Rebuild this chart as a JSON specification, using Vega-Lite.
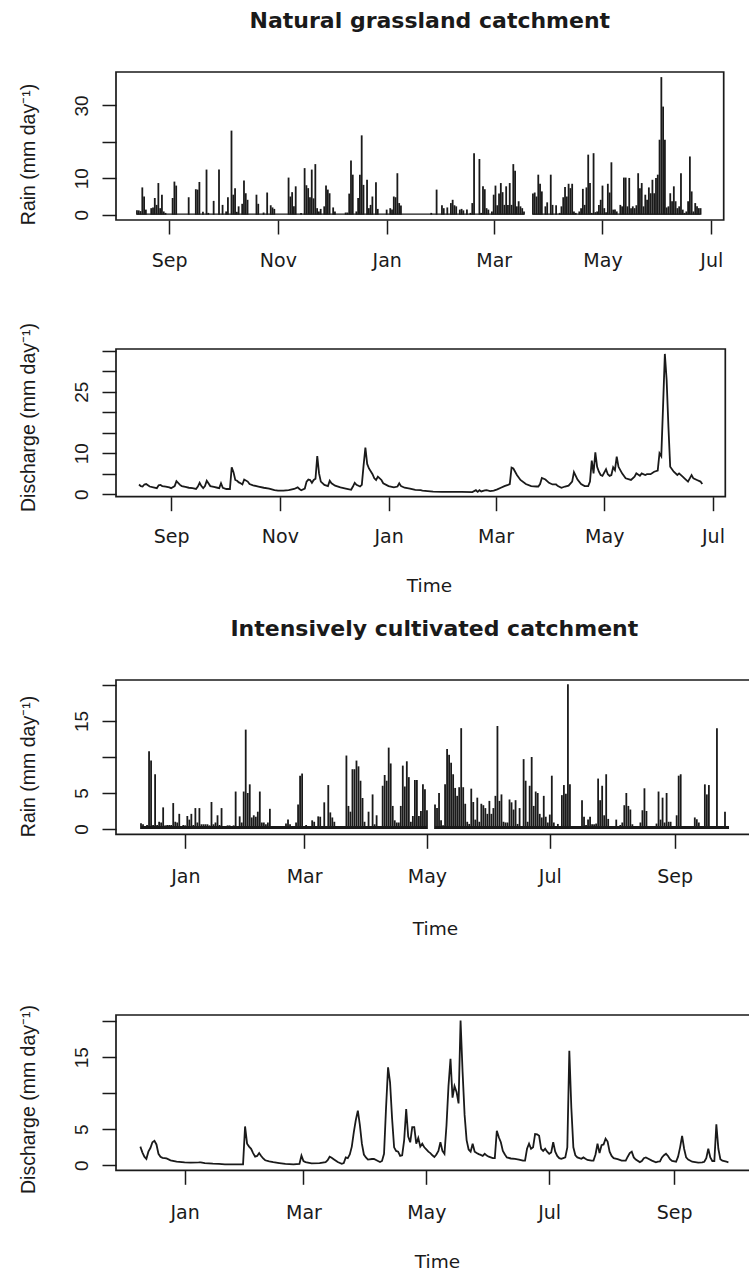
{
  "$schema": "https://vega.github.io/schema/vega-lite/v6.json",
  "padding": {"left": 17, "top": 9, "right": 0, "bottom": 0},
  "background": "white",
  "bounds": "flush",
  "spacing": 0,
  "config": {
    "font": "DejaVu Sans",
    "view": {"stroke": "#1a1a1a", "strokeWidth": 1.7},
    "axis": {"domain": false, "grid": false, "tickColor": "#1a1a1a", "tickWidth": 1.5, "tickSize": 14, "labelColor": "#1a1a1a", "titleColor": "#1a1a1a", "titleFontWeight": "normal", "labelOverlap": false, "labelFlush": false},
    "axisX": {"labelFont": "DejaVu Sans", "titleFont": "DejaVu Sans", "labelFontSize": 19, "labelBaseline": "alphabetic", "labelPadding": 32, "titleFontSize": 18.5, "titleBaseline": "alphabetic", "format": "%b"},
    "axisY": {"labelFont": "Liberation Sans", "titleFont": "Liberation Sans", "labelFontSize": 19, "labelAngle": -90, "labelAlign": "center", "labelBaseline": "alphabetic", "labelPadding": 15, "titleFontSize": 19.5, "titleBaseline": "alphabetic", "titleAngle": -90, "titleX": -82},
    "title": {"font": "DejaVu Sans", "fontSize": 22, "fontWeight": "bold", "color": "#1a1a1a", "baseline": "alphabetic", "anchor": "middle"}
  },
  "datasets": {
    "base1": [
      {"date": "2007-08-14", "date2": "2008-03-18", "rain": 0.35},
      {"date": "2008-03-23", "date2": "2008-06-25", "rain": 0.35}
    ],
    "rain1": [
      {"date": "2007-08-14", "rain": 1.2}, {"date": "2007-08-15", "rain": 1.2}, {"date": "2007-08-16", "rain": 1.0}, {"date": "2007-08-17", "rain": 7.5}, {"date": "2007-08-18", "rain": 5.0}, {"date": "2007-08-19", "rain": 1.4}, {"date": "2007-08-22", "rain": 1.8}, {"date": "2007-08-23", "rain": 2.0}, {"date": "2007-08-24", "rain": 4.6}, {"date": "2007-08-25", "rain": 2.7}, {"date": "2007-08-26", "rain": 8.7}, {"date": "2007-08-27", "rain": 1.8}, {"date": "2007-08-28", "rain": 5.5}, {"date": "2007-08-29", "rain": 0.9}, {"date": "2007-08-30", "rain": 0.5},
      {"date": "2007-09-03", "rain": 4.6}, {"date": "2007-09-04", "rain": 9.1}, {"date": "2007-09-05", "rain": 8.0}, {"date": "2007-09-12", "rain": 4.8}, {"date": "2007-09-16", "rain": 7.0}, {"date": "2007-09-17", "rain": 6.9}, {"date": "2007-09-18", "rain": 9.0}, {"date": "2007-09-20", "rain": 0.8}, {"date": "2007-09-22", "rain": 12.4}, {"date": "2007-09-23", "rain": 0.5}, {"date": "2007-09-26", "rain": 3.8}, {"date": "2007-09-29", "rain": 12.4},
      {"date": "2007-10-01", "rain": 2.7}, {"date": "2007-10-03", "rain": 0.9}, {"date": "2007-10-04", "rain": 4.8}, {"date": "2007-10-06", "rain": 23.1}, {"date": "2007-10-07", "rain": 5.5}, {"date": "2007-10-08", "rain": 7.3}, {"date": "2007-10-09", "rain": 0.8}, {"date": "2007-10-10", "rain": 2.3}, {"date": "2007-10-12", "rain": 3.0}, {"date": "2007-10-13", "rain": 9.4}, {"date": "2007-10-14", "rain": 5.9}, {"date": "2007-10-15", "rain": 4.1}, {"date": "2007-10-20", "rain": 5.5}, {"date": "2007-10-21", "rain": 3.0}, {"date": "2007-10-24", "rain": 0.6}, {"date": "2007-10-26", "rain": 6.1}, {"date": "2007-10-28", "rain": 2.6}, {"date": "2007-10-29", "rain": 2.0}, {"date": "2007-10-30", "rain": 1.6},
      {"date": "2007-11-07", "rain": 10.2}, {"date": "2007-11-08", "rain": 5.0}, {"date": "2007-11-09", "rain": 6.2}, {"date": "2007-11-10", "rain": 2.3}, {"date": "2007-11-11", "rain": 7.8}, {"date": "2007-11-14", "rain": 0.5}, {"date": "2007-11-16", "rain": 12.8}, {"date": "2007-11-17", "rain": 8.1}, {"date": "2007-11-18", "rain": 7.3}, {"date": "2007-11-19", "rain": 4.8}, {"date": "2007-11-20", "rain": 12.4}, {"date": "2007-11-21", "rain": 4.5}, {"date": "2007-11-22", "rain": 13.9}, {"date": "2007-11-23", "rain": 1.8}, {"date": "2007-11-24", "rain": 0.9}, {"date": "2007-11-25", "rain": 1.6}, {"date": "2007-11-27", "rain": 2.3}, {"date": "2007-11-28", "rain": 8.0}, {"date": "2007-11-29", "rain": 6.9}, {"date": "2007-11-30", "rain": 5.9},
      {"date": "2007-12-02", "rain": 2.0}, {"date": "2007-12-03", "rain": 0.9}, {"date": "2007-12-09", "rain": 0.6}, {"date": "2007-12-10", "rain": 0.6}, {"date": "2007-12-11", "rain": 5.8}, {"date": "2007-12-12", "rain": 14.9}, {"date": "2007-12-13", "rain": 11.0}, {"date": "2007-12-15", "rain": 0.9}, {"date": "2007-12-16", "rain": 4.6}, {"date": "2007-12-17", "rain": 11.0}, {"date": "2007-12-18", "rain": 21.8}, {"date": "2007-12-19", "rain": 8.2}, {"date": "2007-12-21", "rain": 9.6}, {"date": "2007-12-22", "rain": 1.8}, {"date": "2007-12-23", "rain": 2.7}, {"date": "2007-12-24", "rain": 5.0}, {"date": "2007-12-26", "rain": 8.9}, {"date": "2007-12-27", "rain": 1.6},
      {"date": "2008-01-01", "rain": 1.4}, {"date": "2008-01-03", "rain": 1.8}, {"date": "2008-01-04", "rain": 1.4}, {"date": "2008-01-05", "rain": 5.0}, {"date": "2008-01-06", "rain": 4.8}, {"date": "2008-01-07", "rain": 11.4}, {"date": "2008-01-08", "rain": 3.2}, {"date": "2008-01-09", "rain": 2.5}, {"date": "2008-01-26", "rain": 0.5}, {"date": "2008-01-29", "rain": 6.9},
      {"date": "2008-02-01", "rain": 2.6}, {"date": "2008-02-02", "rain": 1.8}, {"date": "2008-02-04", "rain": 2.0}, {"date": "2008-02-06", "rain": 3.2}, {"date": "2008-02-07", "rain": 4.1}, {"date": "2008-02-08", "rain": 2.6}, {"date": "2008-02-09", "rain": 2.3}, {"date": "2008-02-11", "rain": 1.4}, {"date": "2008-02-12", "rain": 1.6}, {"date": "2008-02-13", "rain": 1.2}, {"date": "2008-02-15", "rain": 1.4}, {"date": "2008-02-17", "rain": 0.5}, {"date": "2008-02-18", "rain": 3.2}, {"date": "2008-02-19", "rain": 16.9}, {"date": "2008-02-22", "rain": 15.3}, {"date": "2008-02-23", "rain": 0.5}, {"date": "2008-02-24", "rain": 7.8}, {"date": "2008-02-25", "rain": 7.0}, {"date": "2008-02-26", "rain": 1.8}, {"date": "2008-02-27", "rain": 1.4}, {"date": "2008-02-29", "rain": 0.9},
      {"date": "2008-03-01", "rain": 5.5}, {"date": "2008-03-02", "rain": 8.0}, {"date": "2008-03-03", "rain": 2.6}, {"date": "2008-03-04", "rain": 5.8}, {"date": "2008-03-05", "rain": 8.7}, {"date": "2008-03-06", "rain": 6.2}, {"date": "2008-03-07", "rain": 2.7}, {"date": "2008-03-08", "rain": 7.8}, {"date": "2008-03-09", "rain": 2.7}, {"date": "2008-03-10", "rain": 8.7}, {"date": "2008-03-11", "rain": 2.7}, {"date": "2008-03-12", "rain": 13.9}, {"date": "2008-03-13", "rain": 12.1}, {"date": "2008-03-14", "rain": 2.3}, {"date": "2008-03-15", "rain": 3.7}, {"date": "2008-03-16", "rain": 2.3}, {"date": "2008-03-17", "rain": 1.8}, {"date": "2008-03-18", "rain": 0.9},
      {"date": "2008-03-23", "rain": 5.8}, {"date": "2008-03-24", "rain": 6.1}, {"date": "2008-03-25", "rain": 5.0}, {"date": "2008-03-26", "rain": 11.0}, {"date": "2008-03-27", "rain": 8.5}, {"date": "2008-03-28", "rain": 6.4}, {"date": "2008-03-30", "rain": 2.3}, {"date": "2008-03-31", "rain": 3.4},
      {"date": "2008-04-02", "rain": 11.0}, {"date": "2008-04-03", "rain": 2.7}, {"date": "2008-04-05", "rain": 2.6}, {"date": "2008-04-07", "rain": 0.5}, {"date": "2008-04-08", "rain": 2.3}, {"date": "2008-04-09", "rain": 4.8}, {"date": "2008-04-10", "rain": 7.6}, {"date": "2008-04-11", "rain": 5.0}, {"date": "2008-04-12", "rain": 8.5}, {"date": "2008-04-13", "rain": 7.3}, {"date": "2008-04-14", "rain": 8.5}, {"date": "2008-04-15", "rain": 0.9}, {"date": "2008-04-16", "rain": 0.5}, {"date": "2008-04-18", "rain": 0.9}, {"date": "2008-04-19", "rain": 1.8}, {"date": "2008-04-20", "rain": 7.1}, {"date": "2008-04-21", "rain": 2.7}, {"date": "2008-04-22", "rain": 7.5}, {"date": "2008-04-23", "rain": 16.5}, {"date": "2008-04-24", "rain": 8.7}, {"date": "2008-04-25", "rain": 0.5}, {"date": "2008-04-26", "rain": 16.9}, {"date": "2008-04-27", "rain": 0.7}, {"date": "2008-04-28", "rain": 0.9}, {"date": "2008-04-29", "rain": 2.7}, {"date": "2008-04-30", "rain": 4.1},
      {"date": "2008-05-01", "rain": 8.0}, {"date": "2008-05-02", "rain": 1.8}, {"date": "2008-05-03", "rain": 0.7}, {"date": "2008-05-04", "rain": 8.5}, {"date": "2008-05-05", "rain": 6.1}, {"date": "2008-05-06", "rain": 14.4}, {"date": "2008-05-07", "rain": 1.4}, {"date": "2008-05-08", "rain": 1.4}, {"date": "2008-05-09", "rain": 0.9}, {"date": "2008-05-11", "rain": 2.7}, {"date": "2008-05-12", "rain": 2.3}, {"date": "2008-05-13", "rain": 10.2}, {"date": "2008-05-14", "rain": 10.2}, {"date": "2008-05-15", "rain": 2.3}, {"date": "2008-05-16", "rain": 10.1}, {"date": "2008-05-17", "rain": 1.8}, {"date": "2008-05-18", "rain": 2.3}, {"date": "2008-05-19", "rain": 1.8}, {"date": "2008-05-20", "rain": 2.6}, {"date": "2008-05-21", "rain": 11.4}, {"date": "2008-05-22", "rain": 7.3}, {"date": "2008-05-23", "rain": 8.7}, {"date": "2008-05-24", "rain": 2.3}, {"date": "2008-05-25", "rain": 5.5}, {"date": "2008-05-26", "rain": 4.1}, {"date": "2008-05-27", "rain": 7.5}, {"date": "2008-05-28", "rain": 5.9}, {"date": "2008-05-29", "rain": 9.6}, {"date": "2008-05-30", "rain": 5.9}, {"date": "2008-05-31", "rain": 10.1},
      {"date": "2008-06-01", "rain": 11.0}, {"date": "2008-06-02", "rain": 20.6}, {"date": "2008-06-03", "rain": 37.8}, {"date": "2008-06-04", "rain": 29.7}, {"date": "2008-06-05", "rain": 20.6}, {"date": "2008-06-06", "rain": 2.0}, {"date": "2008-06-07", "rain": 2.3}, {"date": "2008-06-08", "rain": 5.9}, {"date": "2008-06-09", "rain": 3.7}, {"date": "2008-06-10", "rain": 7.8}, {"date": "2008-06-11", "rain": 3.7}, {"date": "2008-06-12", "rain": 1.8}, {"date": "2008-06-13", "rain": 2.3}, {"date": "2008-06-14", "rain": 11.4}, {"date": "2008-06-15", "rain": 1.4}, {"date": "2008-06-16", "rain": 0.5}, {"date": "2008-06-17", "rain": 0.9}, {"date": "2008-06-18", "rain": 3.7}, {"date": "2008-06-19", "rain": 16.0}, {"date": "2008-06-20", "rain": 6.4}, {"date": "2008-06-21", "rain": 0.9}, {"date": "2008-06-22", "rain": 3.2}, {"date": "2008-06-23", "rain": 2.3}, {"date": "2008-06-24", "rain": 1.8}, {"date": "2008-06-25", "rain": 1.8}
    ],
    "dis1": [
      {"date": "2007-08-14", "q": 2.4}, {"date": "2007-08-15", "q": 2.0}, {"date": "2007-08-16", "q": 1.9}, {"date": "2007-08-17", "q": 2.4}, {"date": "2007-08-18", "q": 2.5}, {"date": "2007-08-19", "q": 2.2}, {"date": "2007-08-20", "q": 1.9}, {"date": "2007-08-22", "q": 1.7}, {"date": "2007-08-24", "q": 1.5}, {"date": "2007-08-25", "q": 2.2}, {"date": "2007-08-26", "q": 2.3}, {"date": "2007-08-27", "q": 2.0}, {"date": "2007-08-29", "q": 1.9}, {"date": "2007-08-31", "q": 1.7},
      {"date": "2007-09-01", "q": 1.5}, {"date": "2007-09-03", "q": 2.0}, {"date": "2007-09-04", "q": 3.2}, {"date": "2007-09-06", "q": 2.3}, {"date": "2007-09-07", "q": 2.0}, {"date": "2007-09-09", "q": 1.8}, {"date": "2007-09-11", "q": 1.6}, {"date": "2007-09-13", "q": 1.5}, {"date": "2007-09-15", "q": 1.3}, {"date": "2007-09-16", "q": 1.9}, {"date": "2007-09-17", "q": 2.8}, {"date": "2007-09-18", "q": 2.0}, {"date": "2007-09-19", "q": 1.5}, {"date": "2007-09-20", "q": 2.0}, {"date": "2007-09-21", "q": 3.3}, {"date": "2007-09-23", "q": 2.0}, {"date": "2007-09-25", "q": 1.8}, {"date": "2007-09-27", "q": 1.6}, {"date": "2007-09-28", "q": 1.5}, {"date": "2007-09-29", "q": 2.7}, {"date": "2007-09-30", "q": 1.6},
      {"date": "2007-10-02", "q": 1.3}, {"date": "2007-10-04", "q": 1.3}, {"date": "2007-10-05", "q": 6.6}, {"date": "2007-10-06", "q": 5.4}, {"date": "2007-10-07", "q": 3.5}, {"date": "2007-10-08", "q": 3.3}, {"date": "2007-10-09", "q": 2.9}, {"date": "2007-10-10", "q": 2.7}, {"date": "2007-10-11", "q": 2.4}, {"date": "2007-10-12", "q": 3.6}, {"date": "2007-10-14", "q": 3.1}, {"date": "2007-10-15", "q": 2.5}, {"date": "2007-10-17", "q": 2.2}, {"date": "2007-10-20", "q": 1.9}, {"date": "2007-10-23", "q": 1.6}, {"date": "2007-10-26", "q": 1.4}, {"date": "2007-10-29", "q": 1.0}, {"date": "2007-10-31", "q": 0.9},
      {"date": "2007-11-03", "q": 0.9}, {"date": "2007-11-06", "q": 1.0}, {"date": "2007-11-09", "q": 1.3}, {"date": "2007-11-11", "q": 1.7}, {"date": "2007-11-12", "q": 1.3}, {"date": "2007-11-13", "q": 1.0}, {"date": "2007-11-15", "q": 1.4}, {"date": "2007-11-16", "q": 3.1}, {"date": "2007-11-17", "q": 3.6}, {"date": "2007-11-18", "q": 3.5}, {"date": "2007-11-19", "q": 2.8}, {"date": "2007-11-20", "q": 3.5}, {"date": "2007-11-21", "q": 3.8}, {"date": "2007-11-22", "q": 9.3}, {"date": "2007-11-23", "q": 5.1}, {"date": "2007-11-24", "q": 3.1}, {"date": "2007-11-26", "q": 2.3}, {"date": "2007-11-28", "q": 2.0}, {"date": "2007-11-29", "q": 3.3}, {"date": "2007-11-30", "q": 2.7},
      {"date": "2007-12-02", "q": 2.1}, {"date": "2007-12-05", "q": 1.7}, {"date": "2007-12-08", "q": 1.4}, {"date": "2007-12-11", "q": 1.1}, {"date": "2007-12-12", "q": 1.9}, {"date": "2007-12-13", "q": 2.8}, {"date": "2007-12-14", "q": 2.3}, {"date": "2007-12-16", "q": 1.9}, {"date": "2007-12-17", "q": 2.3}, {"date": "2007-12-18", "q": 7.1}, {"date": "2007-12-19", "q": 11.4}, {"date": "2007-12-20", "q": 7.4}, {"date": "2007-12-21", "q": 6.3}, {"date": "2007-12-23", "q": 4.9}, {"date": "2007-12-24", "q": 3.9}, {"date": "2007-12-25", "q": 3.5}, {"date": "2007-12-26", "q": 4.3}, {"date": "2007-12-28", "q": 3.5}, {"date": "2007-12-29", "q": 2.7},
      {"date": "2008-01-01", "q": 2.0}, {"date": "2008-01-04", "q": 1.7}, {"date": "2008-01-06", "q": 1.9}, {"date": "2008-01-07", "q": 2.7}, {"date": "2008-01-08", "q": 2.0}, {"date": "2008-01-10", "q": 1.6}, {"date": "2008-01-13", "q": 1.4}, {"date": "2008-01-16", "q": 1.1}, {"date": "2008-01-19", "q": 1.0}, {"date": "2008-01-20", "q": 0.9}, {"date": "2008-01-26", "q": 0.65}, {"date": "2008-01-31", "q": 0.6},
      {"date": "2008-02-06", "q": 0.6}, {"date": "2008-02-11", "q": 0.6}, {"date": "2008-02-17", "q": 0.55}, {"date": "2008-02-19", "q": 1.0}, {"date": "2008-02-20", "q": 0.6}, {"date": "2008-02-21", "q": 1.0}, {"date": "2008-02-22", "q": 0.7}, {"date": "2008-02-24", "q": 0.95}, {"date": "2008-02-25", "q": 1.0}, {"date": "2008-02-27", "q": 0.8}, {"date": "2008-02-29", "q": 0.9},
      {"date": "2008-03-02", "q": 1.2}, {"date": "2008-03-04", "q": 1.6}, {"date": "2008-03-06", "q": 2.0}, {"date": "2008-03-08", "q": 2.3}, {"date": "2008-03-09", "q": 2.5}, {"date": "2008-03-10", "q": 6.5}, {"date": "2008-03-11", "q": 6.3}, {"date": "2008-03-13", "q": 4.7}, {"date": "2008-03-15", "q": 3.5}, {"date": "2008-03-18", "q": 2.5}, {"date": "2008-03-21", "q": 2.0}, {"date": "2008-03-24", "q": 1.9}, {"date": "2008-03-25", "q": 1.9}, {"date": "2008-03-26", "q": 2.5}, {"date": "2008-03-27", "q": 4.0}, {"date": "2008-03-29", "q": 3.6}, {"date": "2008-03-31", "q": 2.8},
      {"date": "2008-04-02", "q": 2.4}, {"date": "2008-04-04", "q": 2.4}, {"date": "2008-04-05", "q": 2.0}, {"date": "2008-04-07", "q": 1.6}, {"date": "2008-04-09", "q": 1.9}, {"date": "2008-04-11", "q": 2.1}, {"date": "2008-04-13", "q": 3.1}, {"date": "2008-04-14", "q": 5.4}, {"date": "2008-04-16", "q": 3.6}, {"date": "2008-04-18", "q": 2.5}, {"date": "2008-04-20", "q": 2.0}, {"date": "2008-04-22", "q": 2.0}, {"date": "2008-04-23", "q": 3.1}, {"date": "2008-04-24", "q": 8.2}, {"date": "2008-04-25", "q": 5.1}, {"date": "2008-04-26", "q": 10.2}, {"date": "2008-04-27", "q": 6.7}, {"date": "2008-04-28", "q": 5.5}, {"date": "2008-04-29", "q": 4.7}, {"date": "2008-04-30", "q": 4.5},
      {"date": "2008-05-02", "q": 6.1}, {"date": "2008-05-03", "q": 4.9}, {"date": "2008-05-04", "q": 4.5}, {"date": "2008-05-05", "q": 4.7}, {"date": "2008-05-06", "q": 6.6}, {"date": "2008-05-07", "q": 5.9}, {"date": "2008-05-08", "q": 9.2}, {"date": "2008-05-09", "q": 6.7}, {"date": "2008-05-11", "q": 5.1}, {"date": "2008-05-13", "q": 3.9}, {"date": "2008-05-16", "q": 3.5}, {"date": "2008-05-18", "q": 4.3}, {"date": "2008-05-19", "q": 5.1}, {"date": "2008-05-21", "q": 4.5}, {"date": "2008-05-22", "q": 5.1}, {"date": "2008-05-24", "q": 4.7}, {"date": "2008-05-25", "q": 4.9}, {"date": "2008-05-27", "q": 4.9}, {"date": "2008-05-29", "q": 5.5}, {"date": "2008-05-31", "q": 5.8},
      {"date": "2008-06-01", "q": 10.0}, {"date": "2008-06-02", "q": 9.3}, {"date": "2008-06-03", "q": 21.4}, {"date": "2008-06-04", "q": 34.2}, {"date": "2008-06-05", "q": 27.9}, {"date": "2008-06-06", "q": 16.5}, {"date": "2008-06-07", "q": 6.7}, {"date": "2008-06-09", "q": 5.5}, {"date": "2008-06-11", "q": 4.7}, {"date": "2008-06-12", "q": 5.1}, {"date": "2008-06-14", "q": 4.3}, {"date": "2008-06-15", "q": 3.9}, {"date": "2008-06-17", "q": 3.1}, {"date": "2008-06-19", "q": 4.7}, {"date": "2008-06-20", "q": 3.9}, {"date": "2008-06-22", "q": 3.5}, {"date": "2008-06-24", "q": 3.1}, {"date": "2008-06-25", "q": 2.5}
    ],
    "base3": [
      {"date": "2009-12-10", "date2": "2010-05-01", "rain": 0.4},
      {"date": "2010-05-05", "date2": "2010-09-28", "rain": 0.4}
    ],
    "rain3": [
      {"date": "2009-12-10", "rain": 0.8}, {"date": "2009-12-11", "rain": 0.65}, {"date": "2009-12-13", "rain": 0.55}, {"date": "2009-12-14", "rain": 10.8}, {"date": "2009-12-15", "rain": 9.5}, {"date": "2009-12-16", "rain": 0.55}, {"date": "2009-12-17", "rain": 7.6}, {"date": "2009-12-18", "rain": 0.55}, {"date": "2009-12-19", "rain": 1.0}, {"date": "2009-12-20", "rain": 0.9}, {"date": "2009-12-21", "rain": 3.0}, {"date": "2009-12-22", "rain": 0.5}, {"date": "2009-12-23", "rain": 0.55}, {"date": "2009-12-24", "rain": 0.55}, {"date": "2009-12-25", "rain": 0.55}, {"date": "2009-12-26", "rain": 3.6}, {"date": "2009-12-27", "rain": 1.0}, {"date": "2009-12-28", "rain": 0.9}, {"date": "2009-12-29", "rain": 2.1}, {"date": "2009-12-31", "rain": 0.55},
      {"date": "2010-01-01", "rain": 0.5}, {"date": "2010-01-02", "rain": 1.8}, {"date": "2010-01-03", "rain": 1.3}, {"date": "2010-01-04", "rain": 2.1}, {"date": "2010-01-05", "rain": 0.55}, {"date": "2010-01-06", "rain": 2.9}, {"date": "2010-01-07", "rain": 0.9}, {"date": "2010-01-08", "rain": 2.9}, {"date": "2010-01-09", "rain": 0.65}, {"date": "2010-01-10", "rain": 0.65}, {"date": "2010-01-11", "rain": 0.65}, {"date": "2010-01-12", "rain": 0.65}, {"date": "2010-01-13", "rain": 0.5}, {"date": "2010-01-14", "rain": 3.75}, {"date": "2010-01-15", "rain": 0.65}, {"date": "2010-01-16", "rain": 0.9}, {"date": "2010-01-17", "rain": 1.9}, {"date": "2010-01-18", "rain": 0.55}, {"date": "2010-01-19", "rain": 2.9}, {"date": "2010-01-22", "rain": 0.5}, {"date": "2010-01-23", "rain": 0.5}, {"date": "2010-01-25", "rain": 0.5}, {"date": "2010-01-26", "rain": 5.2}, {"date": "2010-01-28", "rain": 1.75}, {"date": "2010-01-29", "rain": 0.9}, {"date": "2010-01-30", "rain": 5.2}, {"date": "2010-01-31", "rain": 13.8},
      {"date": "2010-02-01", "rain": 5.0}, {"date": "2010-02-02", "rain": 6.2}, {"date": "2010-02-03", "rain": 1.6}, {"date": "2010-02-04", "rain": 1.9}, {"date": "2010-02-05", "rain": 1.7}, {"date": "2010-02-06", "rain": 2.4}, {"date": "2010-02-07", "rain": 5.2}, {"date": "2010-02-08", "rain": 0.9}, {"date": "2010-02-09", "rain": 0.9}, {"date": "2010-02-10", "rain": 0.65}, {"date": "2010-02-11", "rain": 0.9}, {"date": "2010-02-12", "rain": 2.8}, {"date": "2010-02-20", "rain": 0.75}, {"date": "2010-02-21", "rain": 1.3}, {"date": "2010-02-22", "rain": 0.65}, {"date": "2010-02-25", "rain": 0.9}, {"date": "2010-02-26", "rain": 3.4}, {"date": "2010-02-27", "rain": 7.4}, {"date": "2010-02-28", "rain": 7.7},
      {"date": "2010-03-02", "rain": 0.55}, {"date": "2010-03-05", "rain": 1.2}, {"date": "2010-03-06", "rain": 1.0}, {"date": "2010-03-08", "rain": 1.75}, {"date": "2010-03-09", "rain": 1.7}, {"date": "2010-03-11", "rain": 3.7}, {"date": "2010-03-13", "rain": 6.1}, {"date": "2010-03-14", "rain": 2.3}, {"date": "2010-03-15", "rain": 1.6}, {"date": "2010-03-16", "rain": 1.0}, {"date": "2010-03-22", "rain": 10.2}, {"date": "2010-03-23", "rain": 3.2}, {"date": "2010-03-24", "rain": 2.4}, {"date": "2010-03-25", "rain": 8.3}, {"date": "2010-03-26", "rain": 8.3}, {"date": "2010-03-27", "rain": 9.5}, {"date": "2010-03-28", "rain": 8.7}, {"date": "2010-03-29", "rain": 6.7}, {"date": "2010-03-30", "rain": 4.3}, {"date": "2010-03-31", "rain": 1.0},
      {"date": "2010-04-02", "rain": 2.4}, {"date": "2010-04-04", "rain": 4.8}, {"date": "2010-04-05", "rain": 0.65}, {"date": "2010-04-06", "rain": 1.9}, {"date": "2010-04-09", "rain": 6.0}, {"date": "2010-04-10", "rain": 7.5}, {"date": "2010-04-11", "rain": 6.7}, {"date": "2010-04-12", "rain": 11.3}, {"date": "2010-04-13", "rain": 9.1}, {"date": "2010-04-14", "rain": 3.2}, {"date": "2010-04-15", "rain": 1.2}, {"date": "2010-04-16", "rain": 0.9}, {"date": "2010-04-17", "rain": 0.9}, {"date": "2010-04-18", "rain": 3.2}, {"date": "2010-04-19", "rain": 8.8}, {"date": "2010-04-20", "rain": 5.9}, {"date": "2010-04-21", "rain": 9.4}, {"date": "2010-04-22", "rain": 7.2}, {"date": "2010-04-23", "rain": 1.0}, {"date": "2010-04-24", "rain": 1.8}, {"date": "2010-04-25", "rain": 6.8}, {"date": "2010-04-26", "rain": 6.8}, {"date": "2010-04-27", "rain": 1.8}, {"date": "2010-04-28", "rain": 2.5}, {"date": "2010-04-29", "rain": 6.2}, {"date": "2010-04-30", "rain": 5.5}, {"date": "2010-05-01", "rain": 2.6},
      {"date": "2010-05-05", "rain": 3.4}, {"date": "2010-05-06", "rain": 2.9}, {"date": "2010-05-07", "rain": 5.0}, {"date": "2010-05-08", "rain": 1.2}, {"date": "2010-05-09", "rain": 0.5}, {"date": "2010-05-10", "rain": 6.2}, {"date": "2010-05-11", "rain": 11.1}, {"date": "2010-05-12", "rain": 10.3}, {"date": "2010-05-13", "rain": 9.2}, {"date": "2010-05-14", "rain": 7.6}, {"date": "2010-05-15", "rain": 5.7}, {"date": "2010-05-16", "rain": 4.6}, {"date": "2010-05-17", "rain": 5.8}, {"date": "2010-05-18", "rain": 14.0}, {"date": "2010-05-19", "rain": 5.8}, {"date": "2010-05-20", "rain": 3.5}, {"date": "2010-05-21", "rain": 1.0}, {"date": "2010-05-22", "rain": 0.7}, {"date": "2010-05-23", "rain": 5.6}, {"date": "2010-05-24", "rain": 3.75}, {"date": "2010-05-25", "rain": 1.3}, {"date": "2010-05-26", "rain": 4.35}, {"date": "2010-05-27", "rain": 1.0}, {"date": "2010-05-28", "rain": 3.5}, {"date": "2010-05-29", "rain": 3.3}, {"date": "2010-05-30", "rain": 2.9}, {"date": "2010-05-31", "rain": 2.1},
      {"date": "2010-06-01", "rain": 3.9}, {"date": "2010-06-02", "rain": 2.1}, {"date": "2010-06-03", "rain": 2.9}, {"date": "2010-06-04", "rain": 4.6}, {"date": "2010-06-05", "rain": 14.3}, {"date": "2010-06-06", "rain": 3.9}, {"date": "2010-06-07", "rain": 4.8}, {"date": "2010-06-08", "rain": 1.0}, {"date": "2010-06-09", "rain": 0.9}, {"date": "2010-06-10", "rain": 0.9}, {"date": "2010-06-11", "rain": 4.1}, {"date": "2010-06-12", "rain": 3.7}, {"date": "2010-06-13", "rain": 2.7}, {"date": "2010-06-14", "rain": 4.0}, {"date": "2010-06-15", "rain": 0.7}, {"date": "2010-06-16", "rain": 2.9}, {"date": "2010-06-18", "rain": 9.7}, {"date": "2010-06-19", "rain": 6.7}, {"date": "2010-06-20", "rain": 1.0}, {"date": "2010-06-21", "rain": 6.0}, {"date": "2010-06-22", "rain": 10.0}, {"date": "2010-06-23", "rain": 3.2}, {"date": "2010-06-24", "rain": 5.2}, {"date": "2010-06-25", "rain": 5.0}, {"date": "2010-06-26", "rain": 2.1}, {"date": "2010-06-27", "rain": 1.6}, {"date": "2010-06-28", "rain": 4.6}, {"date": "2010-06-29", "rain": 1.7}, {"date": "2010-06-30", "rain": 0.9},
      {"date": "2010-07-01", "rain": 2.0}, {"date": "2010-07-02", "rain": 7.4}, {"date": "2010-07-03", "rain": 0.9}, {"date": "2010-07-05", "rain": 0.7}, {"date": "2010-07-07", "rain": 4.7}, {"date": "2010-07-08", "rain": 6.1}, {"date": "2010-07-09", "rain": 4.9}, {"date": "2010-07-10", "rain": 20.1}, {"date": "2010-07-11", "rain": 6.2}, {"date": "2010-07-17", "rain": 4.0}, {"date": "2010-07-18", "rain": 1.7}, {"date": "2010-07-19", "rain": 0.55}, {"date": "2010-07-20", "rain": 1.3}, {"date": "2010-07-21", "rain": 1.7}, {"date": "2010-07-22", "rain": 0.65}, {"date": "2010-07-23", "rain": 0.65}, {"date": "2010-07-24", "rain": 0.75}, {"date": "2010-07-25", "rain": 7.0}, {"date": "2010-07-26", "rain": 4.0}, {"date": "2010-07-27", "rain": 6.0}, {"date": "2010-07-28", "rain": 1.9}, {"date": "2010-07-29", "rain": 7.6}, {"date": "2010-07-30", "rain": 1.4},
      {"date": "2010-08-03", "rain": 1.3}, {"date": "2010-08-05", "rain": 0.55}, {"date": "2010-08-06", "rain": 0.9}, {"date": "2010-08-07", "rain": 3.3}, {"date": "2010-08-08", "rain": 5.0}, {"date": "2010-08-09", "rain": 3.2}, {"date": "2010-08-10", "rain": 2.7}, {"date": "2010-08-11", "rain": 0.65}, {"date": "2010-08-15", "rain": 0.9}, {"date": "2010-08-16", "rain": 2.6}, {"date": "2010-08-17", "rain": 5.65}, {"date": "2010-08-18", "rain": 2.5}, {"date": "2010-08-23", "rain": 0.75}, {"date": "2010-08-24", "rain": 5.2}, {"date": "2010-08-25", "rain": 1.3}, {"date": "2010-08-26", "rain": 4.35}, {"date": "2010-08-27", "rain": 0.9}, {"date": "2010-08-28", "rain": 5.0}, {"date": "2010-08-29", "rain": 1.0}, {"date": "2010-08-30", "rain": 1.0},
      {"date": "2010-09-02", "rain": 1.9}, {"date": "2010-09-03", "rain": 7.4}, {"date": "2010-09-04", "rain": 7.6}, {"date": "2010-09-11", "rain": 1.6}, {"date": "2010-09-12", "rain": 1.35}, {"date": "2010-09-13", "rain": 0.9}, {"date": "2010-09-16", "rain": 6.2}, {"date": "2010-09-17", "rain": 4.8}, {"date": "2010-09-18", "rain": 6.1}, {"date": "2010-09-22", "rain": 14.0}, {"date": "2010-09-26", "rain": 2.4}
    ],
    "dis3": [
      {"date": "2009-12-10", "q": 2.6}, {"date": "2009-12-11", "q": 1.8}, {"date": "2009-12-12", "q": 1.2}, {"date": "2009-12-13", "q": 0.9}, {"date": "2009-12-14", "q": 1.9}, {"date": "2009-12-15", "q": 2.4}, {"date": "2009-12-16", "q": 3.2}, {"date": "2009-12-17", "q": 3.4}, {"date": "2009-12-18", "q": 2.9}, {"date": "2009-12-19", "q": 1.6}, {"date": "2009-12-20", "q": 1.2}, {"date": "2009-12-21", "q": 1.05}, {"date": "2009-12-23", "q": 0.95}, {"date": "2009-12-25", "q": 0.7}, {"date": "2009-12-28", "q": 0.5},
      {"date": "2010-01-01", "q": 0.4}, {"date": "2010-01-04", "q": 0.37}, {"date": "2010-01-08", "q": 0.4}, {"date": "2010-01-09", "q": 0.42}, {"date": "2010-01-11", "q": 0.32}, {"date": "2010-01-15", "q": 0.23}, {"date": "2010-01-18", "q": 0.19}, {"date": "2010-01-21", "q": 0.14}, {"date": "2010-01-30", "q": 0.15}, {"date": "2010-01-31", "q": 5.4},
      {"date": "2010-02-01", "q": 3.0}, {"date": "2010-02-02", "q": 2.6}, {"date": "2010-02-03", "q": 2.3}, {"date": "2010-02-04", "q": 1.7}, {"date": "2010-02-05", "q": 1.2}, {"date": "2010-02-06", "q": 1.3}, {"date": "2010-02-07", "q": 1.7}, {"date": "2010-02-08", "q": 1.3}, {"date": "2010-02-09", "q": 0.95}, {"date": "2010-02-10", "q": 0.7}, {"date": "2010-02-12", "q": 0.55}, {"date": "2010-02-14", "q": 0.45}, {"date": "2010-02-17", "q": 0.32}, {"date": "2010-02-20", "q": 0.2}, {"date": "2010-02-24", "q": 0.14}, {"date": "2010-02-27", "q": 0.2}, {"date": "2010-02-28", "q": 1.35},
      {"date": "2010-03-01", "q": 0.6}, {"date": "2010-03-02", "q": 0.45}, {"date": "2010-03-05", "q": 0.28}, {"date": "2010-03-09", "q": 0.3}, {"date": "2010-03-12", "q": 0.45}, {"date": "2010-03-13", "q": 0.7}, {"date": "2010-03-14", "q": 1.2}, {"date": "2010-03-15", "q": 1.05}, {"date": "2010-03-16", "q": 0.85}, {"date": "2010-03-18", "q": 0.45}, {"date": "2010-03-20", "q": 0.2}, {"date": "2010-03-21", "q": 0.3}, {"date": "2010-03-22", "q": 1.1}, {"date": "2010-03-23", "q": 1.0}, {"date": "2010-03-24", "q": 1.5}, {"date": "2010-03-25", "q": 2.6}, {"date": "2010-03-26", "q": 4.6}, {"date": "2010-03-27", "q": 6.3}, {"date": "2010-03-28", "q": 7.6}, {"date": "2010-03-29", "q": 5.6}, {"date": "2010-03-30", "q": 3.0}, {"date": "2010-03-31", "q": 1.5},
      {"date": "2010-04-01", "q": 1.1}, {"date": "2010-04-02", "q": 0.8}, {"date": "2010-04-04", "q": 0.88}, {"date": "2010-04-05", "q": 0.88}, {"date": "2010-04-07", "q": 0.6}, {"date": "2010-04-08", "q": 0.45}, {"date": "2010-04-09", "q": 0.6}, {"date": "2010-04-10", "q": 1.6}, {"date": "2010-04-11", "q": 8.0}, {"date": "2010-04-12", "q": 13.6}, {"date": "2010-04-13", "q": 11.5}, {"date": "2010-04-14", "q": 6.5}, {"date": "2010-04-15", "q": 2.5}, {"date": "2010-04-16", "q": 2.0}, {"date": "2010-04-17", "q": 1.9}, {"date": "2010-04-18", "q": 1.3}, {"date": "2010-04-19", "q": 1.4}, {"date": "2010-04-20", "q": 3.5}, {"date": "2010-04-21", "q": 7.8}, {"date": "2010-04-22", "q": 4.0}, {"date": "2010-04-23", "q": 3.2}, {"date": "2010-04-24", "q": 5.3}, {"date": "2010-04-25", "q": 5.3}, {"date": "2010-04-26", "q": 3.0}, {"date": "2010-04-27", "q": 3.8}, {"date": "2010-04-28", "q": 2.6}, {"date": "2010-04-29", "q": 3.0}, {"date": "2010-04-30", "q": 2.5},
      {"date": "2010-05-01", "q": 2.2}, {"date": "2010-05-02", "q": 1.9}, {"date": "2010-05-03", "q": 1.7}, {"date": "2010-05-04", "q": 1.4}, {"date": "2010-05-05", "q": 1.15}, {"date": "2010-05-06", "q": 1.5}, {"date": "2010-05-07", "q": 2.0}, {"date": "2010-05-08", "q": 3.2}, {"date": "2010-05-09", "q": 2.0}, {"date": "2010-05-10", "q": 1.6}, {"date": "2010-05-11", "q": 5.5}, {"date": "2010-05-12", "q": 11.0}, {"date": "2010-05-13", "q": 14.8}, {"date": "2010-05-14", "q": 9.4}, {"date": "2010-05-15", "q": 11.0}, {"date": "2010-05-16", "q": 10.2}, {"date": "2010-05-17", "q": 8.6}, {"date": "2010-05-18", "q": 20.1}, {"date": "2010-05-19", "q": 13.0}, {"date": "2010-05-20", "q": 7.0}, {"date": "2010-05-21", "q": 3.5}, {"date": "2010-05-22", "q": 2.2}, {"date": "2010-05-23", "q": 1.9}, {"date": "2010-05-24", "q": 3.0}, {"date": "2010-05-25", "q": 1.9}, {"date": "2010-05-26", "q": 1.7}, {"date": "2010-05-27", "q": 1.55}, {"date": "2010-05-28", "q": 1.45}, {"date": "2010-05-29", "q": 1.3}, {"date": "2010-05-30", "q": 1.6}, {"date": "2010-05-31", "q": 1.35},
      {"date": "2010-06-01", "q": 1.2}, {"date": "2010-06-02", "q": 1.1}, {"date": "2010-06-03", "q": 1.0}, {"date": "2010-06-04", "q": 1.0}, {"date": "2010-06-05", "q": 4.8}, {"date": "2010-06-06", "q": 3.9}, {"date": "2010-06-07", "q": 3.2}, {"date": "2010-06-08", "q": 2.0}, {"date": "2010-06-09", "q": 1.5}, {"date": "2010-06-10", "q": 1.1}, {"date": "2010-06-12", "q": 0.95}, {"date": "2010-06-14", "q": 0.9}, {"date": "2010-06-16", "q": 0.8}, {"date": "2010-06-18", "q": 0.65}, {"date": "2010-06-19", "q": 0.65}, {"date": "2010-06-20", "q": 2.3}, {"date": "2010-06-21", "q": 3.0}, {"date": "2010-06-22", "q": 2.3}, {"date": "2010-06-23", "q": 2.5}, {"date": "2010-06-24", "q": 4.35}, {"date": "2010-06-25", "q": 4.3}, {"date": "2010-06-26", "q": 4.1}, {"date": "2010-06-27", "q": 2.3}, {"date": "2010-06-28", "q": 2.0}, {"date": "2010-06-29", "q": 2.3}, {"date": "2010-06-30", "q": 1.9},
      {"date": "2010-07-01", "q": 1.6}, {"date": "2010-07-02", "q": 1.8}, {"date": "2010-07-03", "q": 3.2}, {"date": "2010-07-04", "q": 1.9}, {"date": "2010-07-05", "q": 1.3}, {"date": "2010-07-06", "q": 1.0}, {"date": "2010-07-07", "q": 0.9}, {"date": "2010-07-08", "q": 1.0}, {"date": "2010-07-09", "q": 1.1}, {"date": "2010-07-10", "q": 2.5}, {"date": "2010-07-11", "q": 15.9}, {"date": "2010-07-12", "q": 8.0}, {"date": "2010-07-13", "q": 2.5}, {"date": "2010-07-14", "q": 1.4}, {"date": "2010-07-15", "q": 1.1}, {"date": "2010-07-16", "q": 1.0}, {"date": "2010-07-17", "q": 0.9}, {"date": "2010-07-18", "q": 1.1}, {"date": "2010-07-19", "q": 0.9}, {"date": "2010-07-20", "q": 0.75}, {"date": "2010-07-22", "q": 0.65}, {"date": "2010-07-23", "q": 0.65}, {"date": "2010-07-24", "q": 1.5}, {"date": "2010-07-25", "q": 3.0}, {"date": "2010-07-26", "q": 1.7}, {"date": "2010-07-27", "q": 2.8}, {"date": "2010-07-28", "q": 2.9}, {"date": "2010-07-29", "q": 3.7}, {"date": "2010-07-30", "q": 3.3}, {"date": "2010-07-31", "q": 1.9},
      {"date": "2010-08-01", "q": 1.3}, {"date": "2010-08-02", "q": 1.0}, {"date": "2010-08-04", "q": 0.85}, {"date": "2010-08-06", "q": 0.65}, {"date": "2010-08-08", "q": 0.65}, {"date": "2010-08-09", "q": 1.2}, {"date": "2010-08-10", "q": 1.7}, {"date": "2010-08-11", "q": 1.9}, {"date": "2010-08-12", "q": 1.1}, {"date": "2010-08-13", "q": 0.8}, {"date": "2010-08-15", "q": 0.45}, {"date": "2010-08-16", "q": 0.6}, {"date": "2010-08-17", "q": 1.0}, {"date": "2010-08-18", "q": 1.1}, {"date": "2010-08-19", "q": 0.95}, {"date": "2010-08-21", "q": 0.65}, {"date": "2010-08-23", "q": 0.42}, {"date": "2010-08-24", "q": 0.5}, {"date": "2010-08-25", "q": 0.55}, {"date": "2010-08-26", "q": 1.1}, {"date": "2010-08-27", "q": 1.4}, {"date": "2010-08-28", "q": 1.6}, {"date": "2010-08-29", "q": 1.3}, {"date": "2010-08-30", "q": 0.85}, {"date": "2010-08-31", "q": 0.6},
      {"date": "2010-09-02", "q": 0.5}, {"date": "2010-09-03", "q": 1.2}, {"date": "2010-09-04", "q": 2.5}, {"date": "2010-09-05", "q": 4.1}, {"date": "2010-09-06", "q": 2.3}, {"date": "2010-09-07", "q": 1.1}, {"date": "2010-09-08", "q": 0.8}, {"date": "2010-09-10", "q": 0.5}, {"date": "2010-09-13", "q": 0.38}, {"date": "2010-09-15", "q": 0.4}, {"date": "2010-09-16", "q": 0.5}, {"date": "2010-09-17", "q": 1.0}, {"date": "2010-09-18", "q": 2.3}, {"date": "2010-09-19", "q": 1.1}, {"date": "2010-09-20", "q": 0.6}, {"date": "2010-09-21", "q": 0.6}, {"date": "2010-09-22", "q": 5.7}, {"date": "2010-09-23", "q": 2.3}, {"date": "2010-09-24", "q": 0.85}, {"date": "2010-09-25", "q": 0.65}, {"date": "2010-09-27", "q": 0.5}, {"date": "2010-09-28", "q": 0.42}
    ],
    "empty": []
  },
  "vconcat": [
    {
      "width": 607.7,
      "height": 148,
      "title": {"text": "Natural grassland catchment", "offset": 39, "dx": 10},
      "encoding": {
        "x": {"field": "date", "type": "temporal",
          "scale": {"domain": [{"year": 2007, "month": 8, "date": 2, "hours": 6}, {"year": 2008, "month": 7, "date": 7, "hours": 23}]},
          "axis": {"title": null, "values": [{"year": 2007, "month": 9, "date": 1}, {"year": 2007, "month": 11, "date": 1}, {"year": 2008, "month": 1, "date": 1}, {"year": 2008, "month": 3, "date": 1}, {"year": 2008, "month": 5, "date": 1}, {"year": 2008, "month": 7, "date": 1}]}},
        "y": {"field": "rain", "type": "quantitative",
          "scale": {"domain": [-1.45, 39.2], "nice": false, "zero": false},
          "axis": {"title": "Rain (mm day⁻¹)", "titleY": 82, "values": [0, 10, 20, 30], "labelExpr": "datum.value == 20 ? '' : datum.label"}}
      },
      "layer": [
        {"data": {"name": "base1"}, "mark": {"type": "rect", "color": "#1a1a1a"}, "encoding": {"x2": {"field": "date2"}, "y2": {"datum": 0}}},
        {"data": {"name": "rain1"}, "mark": {"type": "rule", "color": "#1a1a1a", "strokeWidth": 1.8, "strokeCap": "butt"}, "encoding": {"y2": {"datum": 0}}}
      ]
    },
    {"width": 10, "height": 128.7, "data": {"name": "empty"}, "mark": "point", "view": {"stroke": null}},
    {
      "width": 609.3,
      "height": 147.7,
      "data": {"name": "dis1"},
      "mark": {"type": "line", "color": "#1a1a1a", "strokeWidth": 1.8},
      "encoding": {
        "x": {"field": "date", "type": "temporal",
          "scale": {"domain": [{"year": 2007, "month": 8, "date": 1, "hours": 2}, {"year": 2008, "month": 7, "date": 7, "hours": 22}]},
          "axis": {"title": "Time", "titleX": 313, "titleY": 95, "values": [{"year": 2007, "month": 9, "date": 1}, {"year": 2007, "month": 11, "date": 1}, {"year": 2008, "month": 1, "date": 1}, {"year": 2008, "month": 3, "date": 1}, {"year": 2008, "month": 5, "date": 1}, {"year": 2008, "month": 7, "date": 1}]}},
        "y": {"field": "q", "type": "quantitative",
          "scale": {"domain": [-0.58, 35.4], "nice": false, "zero": false},
          "axis": {"title": "Discharge (mm day⁻¹)", "titleY": 68, "values": [0, 5, 10, 15, 20, 25, 30, 35], "labelExpr": "(datum.value == 0 || datum.value == 10 || datum.value == 25) ? datum.label : ''"}}
      }
    },
    {"width": 10, "height": 182.3, "data": {"name": "empty"}, "mark": "point", "view": {"stroke": null}},
    {
      "width": 636.6,
      "height": 154.3,
      "title": {"text": "Intensively cultivated catchment", "offset": 39},
      "encoding": {
        "x": {"field": "date", "type": "temporal",
          "scale": {"domain": [{"year": 2009, "month": 11, "date": 27, "hours": 14}, {"year": 2010, "month": 10, "date": 9, "hours": 17}]},
          "axis": {"title": "Time", "titleX": 319, "titleY": 100, "labelPadding": 34.5, "values": [{"year": 2010, "month": 1, "date": 1}, {"year": 2010, "month": 3, "date": 1}, {"year": 2010, "month": 5, "date": 1}, {"year": 2010, "month": 7, "date": 1}, {"year": 2010, "month": 9, "date": 1}]}},
        "y": {"field": "rain", "type": "quantitative",
          "scale": {"domain": [-0.74, 20.69], "nice": false, "zero": false},
          "axis": {"title": "Rain (mm day⁻¹)", "titleY": 86, "values": [0, 5, 10, 15, 20], "labelExpr": "(datum.value == 10 || datum.value == 20) ? '' : datum.label"}}
      },
      "layer": [
        {"data": {"name": "base3"}, "mark": {"type": "rect", "color": "#1a1a1a"}, "encoding": {"x2": {"field": "date2"}, "y2": {"datum": 0}}},
        {"data": {"name": "rain3"}, "mark": {"type": "rule", "color": "#1a1a1a", "strokeWidth": 1.8, "strokeCap": "butt"}, "encoding": {"y2": {"datum": 0}}}
      ]
    },
    {"width": 10, "height": 179.4, "data": {"name": "empty"}, "mark": "point", "view": {"stroke": null}},
    {
      "width": 636.6,
      "height": 155.3,
      "data": {"name": "dis3"},
      "mark": {"type": "line", "color": "#1a1a1a", "strokeWidth": 1.8},
      "encoding": {
        "x": {"field": "date", "type": "temporal",
          "scale": {"domain": [{"year": 2009, "month": 11, "date": 27, "hours": 22}, {"year": 2010, "month": 10, "date": 10, "hours": 0}]},
          "axis": {"title": "Time", "titleX": 321, "titleY": 97, "labelPadding": 34.5, "values": [{"year": 2010, "month": 1, "date": 1}, {"year": 2010, "month": 3, "date": 1}, {"year": 2010, "month": 5, "date": 1}, {"year": 2010, "month": 7, "date": 1}, {"year": 2010, "month": 9, "date": 1}]}},
        "y": {"field": "q", "type": "quantitative",
          "scale": {"domain": [-0.69, 20.87], "nice": false, "zero": false},
          "axis": {"title": "Discharge (mm day⁻¹)", "titleY": 84, "values": [0, 5, 10, 15, 20], "labelExpr": "(datum.value == 10 || datum.value == 20) ? '' : datum.label"}}
      }
    }
  ]
}
